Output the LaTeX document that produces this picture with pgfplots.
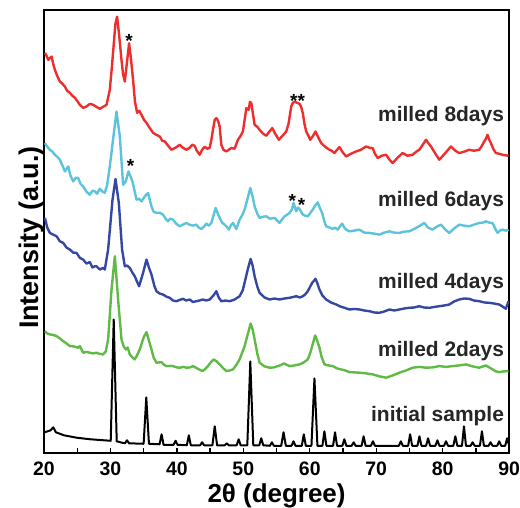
\documentclass[border=0pt]{standalone}
\usepackage{pgfplots}
\pgfplotsset{compat=1.18}
\usepackage{fontspec}
\setmainfont{Liberation Sans}
\definecolor{cRed}{RGB}{238,45,45}
\definecolor{cCyan}{RGB}{92,196,218}
\definecolor{cBlue}{RGB}{52,72,163}
\definecolor{cGreen}{RGB}{96,186,70}
\begin{document}
\begin{tikzpicture}
\begin{axis}[
  scale only axis, width=466pt, height=444pt,
  xmin=20, xmax=90, ymin=0, ymax=444,
  xtick={20,30,...,90}, minor xtick={25,35,...,85},
  xticklabels={20,30,40,50,60,70,80,90},
  ytick=\empty,
  xtick pos=bottom,
  tick align=inside,
  major tick length=5pt, minor tick length=5pt,
  every tick/.style={black, line width=1.3pt},
  axis line style={line width=1.6pt},
  /pgf/number format/assume math mode=true,
  xticklabel style={font=\fontsize{19.5}{20}\selectfont\bfseries, inner sep=0pt, anchor=north, yshift=-8pt},
  xlabel={2θ (degree)},
  xlabel style={font=\fontsize{26}{28}\selectfont\bfseries, at={(axis description cs:0.5,0)}, anchor=north, inner sep=0pt, yshift=-30pt},
  ylabel={Intensity (a.u.)},
  ylabel style={font=\fontsize{27}{28}\selectfont\bfseries, at={(axis description cs:0,0.5)}, anchor=south, rotate=0, inner sep=0pt, xshift=-6pt},
  every axis plot/.append style={line width=2.4pt, line join=round, mark=none},
]
% initial sample
\addplot[black, line width=2pt] coordinates {
(20.1,21)(21.0,23)(21.4,26)(21.8,21)(23,18)(25,15.5)(27,14)(29,13)(30.05,12.5)(30.5,134)(30.95,12)(31.8,10.5)(32.2,10)(32.5,13)(32.8,10)(35.0,9.5)(35.4,56)(35.8,9.5)
(37.4,9)(37.7,19)(38.0,8.5)(39.5,8.5)(39.8,12.5)(40.1,8.5)(41.5,8)(41.8,18)(42.1,8)(43.5,8)(43.8,11)(44.1,8)(45.35,8)(45.7,27)(46.05,8)(47.2,8)(47.5,10)(47.8,8)
(49.0,8)(49.3,14)(49.6,8)(50.6,8)(51.05,92)(51.5,8)(52.4,8)(52.7,15)(53.0,8)(54.0,7.5)(54.3,11)(54.6,7.5)(55.7,7.5)(56.05,21)(56.4,7.5)(57.25,7.5)(57.55,12)(57.85,7.5)
(58.8,7.5)(59.1,19)(59.4,7.5)(60.25,7.5)(60.7,75)(61.15,7.5)(61.9,7.5)(62.2,22)(62.5,7.5)(63.5,7.5)(63.8,21)(64.1,7.5)(64.9,7.5)(65.2,14)(65.5,7.5)(66.3,7.5)(66.6,11)(66.9,7.5)
(67.8,7.5)(68.1,17)(68.4,7.5)(69.2,7.5)(69.5,12)(69.8,7.5)(73.4,7.5)(73.7,12)(74.0,7.5)(74.8,7.5)(75.1,19)(75.4,7.5)(76.2,7.5)(76.5,17)(76.8,7.5)(77.5,7.5)(77.8,15)(78.1,7.5)
(78.9,7.5)(79.2,13)(79.5,7.5)(80.2,7.5)(80.5,12)(80.8,7.5)(81.6,7.5)(81.9,17)(82.2,7.5)(82.9,7.5)(83.2,27)(83.5,7.5)(84.2,7.5)(84.5,11)(84.8,7.5)(85.6,7.5)(85.9,22)(86.2,7.5)
(86.9,7.5)(87.2,11)(87.5,7.5)(88.2,7.5)(88.5,12)(88.8,7.5)(89.4,7.5)(89.7,15)(89.95,9)
};
% milled 2 days
\addplot[cGreen] coordinates {
(20.15,122.3)(20.5,120)(20.90,119)(21.4,118.5)(21.91,117.3)(22.4,115)(22.90,112.3)(23.4,110)(23.91,107.3)(24.5,107)(25.15,105.7)(25.41,107.3)(25.90,100.7)(26.4,101.5)(26.91,100.7)(27.4,100)(27.92,100.7)(28.4,99.5)(28.91,99)(29.3,102)(29.66,114)(30.17,164)(30.67,197.3)
(31.16,154)(31.67,114)(32.0,107)(32.32,104)(32.6,106)(32.92,99)(33.3,96)(33.67,94)(34.0,98)(34.42,104)(35.0,116)(35.43,121.3)(35.8,113)(36.18,104)(36.5,96)(36.93,90.7)(37.3,91)(37.68,91.3)(38.0,89)(38.43,87.3)(39.0,87.5)(39.42,87.3)(40.0,86)(40.43,85.7)(41.0,86.5)(41.44,85.7)(42.0,86)(42.43,87.3)
(43.33,84)(43.84,82.3)(44.2,84)(44.68,87.3)(45.1,91)(45.54,94)(46.0,92)(46.44,89)(47.0,85)(47.45,82.3)(48.0,83)(48.44,84)(49.0,89)(49.44,94)(50.19,107.3)(50.7,120)(51.10,130)(51.4,124)(51.70,114)(52.1,100)(52.45,90.7)(53.2,87)(53.95,85.7)(54.6,86)(55.20,87.3)(55.7,88.5)(56.10,90)
(56.95,87.3)(57.7,88)(58.46,89)(59.1,91)(59.70,94)(60.1,101)(60.36,107.3)(60.81,118)(61.1,113)(61.46,105.7)(61.8,96)(62.21,89)(62.8,88)(63.46,87.3)(64.1,85)(64.72,84)(65.3,83)(65.97,81.3)(66.7,81)(67.47,80.7)(68.5,80)(69.47,79)(70.5,77)(71.48,75.7)(72.5,78)(73.48,80.7)(74.5,83)(75.48,85.7)
(76.5,86.5)(77.49,85.7)(78.5,86)(79.49,87.3)(80.5,86.5)(81.49,87.3)(82.5,88)(83.49,89)(84.5,87)(85.50,85.7)(86.50,88)(87.49,84)(88.0,82)(88.50,81.3)(89.2,82)(89.90,82.3)
};
% milled 4 days
\addplot[cBlue] coordinates {
(20.15,235.7)(20.5,226)(20.90,220.7)(21.4,219)(21.91,217.3)(22.40,212.3)(22.90,210.7)(23.4,206)(23.91,204)(24.4,201)(24.91,200.7)(25.41,195.7)(25.90,194)(26.4,190)(26.91,191.5)(27.3,186)(27.66,187.3)(27.92,187.3)(28.4,184)(28.91,185.7)(29.16,184)
(29.66,204)(30.32,254)(30.77,274.7)(31.27,250.7)(31.76,204)(32.17,187.3)(32.5,188)(32.92,185.7)(33.3,181)(33.67,177.3)(34.0,172)(34.32,167.3)(34.92,180.7)(35.43,194)(35.8,186)(36.18,179)(36.6,168)(36.93,162.3)(37.4,160)(37.92,159)(38.4,157)
(38.93,155.7)(39.4,153)(39.93,152.3)(40.4,153.5)(40.93,154.7)(41.4,153)(41.93,154)(42.4,151.5)(42.94,152.3)(43.4,153)(43.93,154)(44.4,153)(44.94,154)(45.5,158)(45.94,162.3)(46.3,156)(46.69,152.3)(47.3,153)(47.94,152.3)(48.7,154)(49.44,157.3)(49.9,163)(50.19,170.7)(50.7,185)(51.10,194.7)(51.4,188)(51.70,177.3)
(52.1,167)(52.45,160.7)(53.2,156)(53.95,154)(54.7,155)(55.45,154)(56.2,155)(56.95,155.7)(57.5,156.5)(57.96,157.3)(58.5,156)(58.95,157.3)(59.3,159)(59.70,162.3)(60.36,170.7)(60.86,174.7)(61.1,171)(61.46,164)(61.9,158)(62.47,154)(63.2,151)(63.97,149)(64.6,147)(65.22,145.7)(65.97,144)
(66.7,144.5)(67.47,144)(68.2,143)(68.97,142.3)(69.7,141)(70.47,140.7)(71.2,142)(71.98,144)(72.7,143)(73.48,144)(74.2,145)(74.98,145.7)(75.7,146)(76.48,147.3)(77.2,146)(77.98,145.7)(78.7,146.5)(79.49,147.3)(80.2,148)(80.99,149)(81.7,152)(82.49,154)(83.2,155)(83.99,154.7)(84.7,153)(85.50,152.3)(86.3,151)(87.00,150.7)
(87.7,150)(88.50,149)(89.0,147)(89.50,144.7)(89.90,152.3)
};
% milled 6 days
\addplot[cCyan] coordinates {
(20.15,310.7)(20.5,307)(20.90,304)(21.3,302)(21.65,299)(22.0,297)(22.40,294)(22.8,288)(23.15,282.3)(23.65,287.3)(24.0,278)(24.40,272.3)(24.8,276)(25.15,275.7)(25.5,270)(25.90,267.3)(26.4,262)(26.91,259)(27.3,263)(27.66,262.3)(28.0,260)(28.41,265)(28.8,262)(29.16,261)(29.5,268)(29.91,287.3)
(30.52,320.7)(30.92,342.3)(31.42,317.3)(31.91,269)(32.32,272.3)(32.72,282.3)(33.32,272.3)(33.93,254)(34.3,255)(34.68,252.3)(35.17,257.3)(35.67,260.7)(36.18,247.3)(36.5,242)(36.93,240.7)(37.4,241)(37.92,239)(38.3,235)
(38.67,232.3)(39.0,235)(39.42,234)(39.9,230)(40.43,227.3)(40.9,229)(41.44,230.7)(41.9,229)(42.43,228)(42.94,229)(43.3,226)(43.69,224.7)(44.1,227)(44.44,230)(44.8,228)(45.19,230.7)(45.5,238)(45.84,245.7)(46.1,241)(46.44,235.7)(46.8,231)(47.19,229)(47.5,227)(47.84,224)(48.1,228)(48.44,230.7)
(48.95,224.7)(49.44,234)(49.8,238)(50.19,244)(50.6,254)(51.05,265.7)(51.4,257)(51.70,247.3)(52.1,240)(52.45,235.7)(53.0,237)(53.45,237.3)(54.0,235)(54.70,235.7)(55.1,233)(55.45,230.7)(55.8,234)(56.20,237.3)(56.6,239)(56.95,240.7)(57.3,244)(57.55,250.7)(57.96,242.3)(58.2,246)(58.46,244.7)
(58.95,239)(59.3,238)(59.70,237.3)(60.1,241)(60.45,244)(60.8,248)(61.20,251.3)(61.5,246)(61.86,240.7)(62.2,232)(62.47,227.3)(63.0,226)(63.46,224.7)(63.8,226)(64.21,224)(64.5,227)(64.87,230)(65.2,226)(65.47,224)(65.97,222.3)(66.7,223)(67.47,224)(68.2,221)(68.97,220.7)(69.7,220)(70.47,219)
(71.2,221)(71.98,222.3)(72.7,221)(73.48,220.7)(74.2,222)(74.98,222.3)(75.5,224)(75.99,225.7)(76.6,228)(77.23,230.7)(77.8,226)(78.48,224)(79.1,227)(79.74,229)(80.4,224)(80.99,220.7)(81.7,225)(82.49,229)(83.2,228)(83.99,227.3)(84.7,229)(85.50,230.7)(86.0,231)(86.50,232.3)(87.0,231)(87.49,230.7)(87.9,225)(88.25,220.7)
(88.6,223)(89.00,224)(89.5,223)(89.90,224)
};
% milled 8 days
\addplot[cRed] coordinates {
(20.15,401)(20.4,398)(20.65,394)(20.9,396)(21.16,397.3)(21.4,390)(21.65,384)(22.0,378)(22.40,372.3)(22.8,370)(23.15,367.3)(23.5,363)(23.91,361)(24.3,358)(24.66,356)(25.0,353)(25.41,349)(25.9,346)(26.41,347.3)(26.9,350)(27.41,349)(27.9,347)(28.41,345)(28.9,347)(29.42,349)(29.91,364)(30.2,385)(30.52,411)
(30.75,430)(31.01,437.3)(31.3,420)(31.67,394)(31.9,380)(32.17,372.3)(32.5,392)(32.81,410.7)(33.1,395)(33.41,374)(33.7,352)(34.02,341)(34.35,343)(34.68,339)(35.05,334)(35.43,331)(35.9,326)(36.42,321)(36.9,319)(37.43,317.3)(37.8,313)(38.18,312.3)(38.7,308)(39.18,304)(39.8,306)(40.43,309)(40.9,306)(41.44,304)(41.93,306)
(42.3,309)(42.68,308)(43.0,303)(43.43,299)(43.8,304)(44.19,307)(44.6,305)(44.94,306)(45.2,314)(45.43,324)(45.7,334)(45.94,335.7)(46.2,333)(46.44,327.3)(46.69,309)(47.0,304)(47.45,302.3)(47.8,304)(48.20,305.7)(48.69,305)(49.19,314)(49.6,318)(49.94,322.3)(50.2,334)(50.45,345.7)(50.8,344)(51.0,352)(51.20,350.7)
(51.45,340)(51.70,329)(52.1,327)(52.45,324)(53.0,320)(53.45,318)(53.9,322)(54.36,325.7)(54.8,320)(55.35,314)(55.9,318)(56.46,322.3)(56.8,330)(57.21,347.3)(57.45,351)(57.70,352.3)(58.1,351)(58.46,350)(58.7,347)(58.95,340.7)(59.2,330)(59.46,322.3)(59.8,318)(60.06,314)(60.5,318)(60.86,322.3)(61.3,316)(61.72,310.7)
(62.3,307)(62.96,304)(63.3,303)(63.71,300.7)(64.1,304)(64.46,306.7)(65.0,301)(65.47,297.3)(66.2,300)(66.97,302.3)(67.7,304)(68.48,307.3)(69.0,306)(69.47,305.7)(69.8,300)(70.22,295.7)(70.8,298)(71.48,299)(72.0,294)(72.47,290.7)(73.2,296)(73.97,300.7)(74.7,298)(75.48,299)(76.0,302)(76.48,304)(77.0,309)(77.49,314)
(77.9,310)(78.24,307.3)(78.9,300)(79.49,294)(80.3,300)(81.24,307.3)(81.9,303)(82.49,300.7)(83.2,302)(83.99,304)(84.7,303)(85.50,304)(85.9,308)(86.25,312.3)(86.5,315)(86.74,319)(87.0,314)(87.25,310.7)(87.6,305)(88.00,300.7)(88.5,300)(88.99,299)(89.4,298.5)(89.90,298)
};
% asterisks
\node[anchor=base, inner sep=0pt, font=\fontsize{19}{20}\selectfont\bfseries] at (axis cs:32.81,406.5) {*};
\node[anchor=base, inner sep=0pt, font=\fontsize{19}{20}\selectfont\bfseries] at (axis cs:58.16,346.5) {**};
\node[anchor=base, inner sep=0pt, font=\fontsize{19}{20}\selectfont\bfseries] at (axis cs:33.02,281.5) {*};
\node[anchor=base, inner sep=0pt, font=\fontsize{19}{20}\selectfont\bfseries] at (axis cs:57.36,246.5) {*};
\node[anchor=base, inner sep=0pt, font=\fontsize{19}{20}\selectfont\bfseries] at (axis cs:58.76,242.5) {*};
% labels
\node[anchor=base east, inner sep=0pt, font=\fontsize{21}{22}\selectfont\bfseries, text=black!85] at (axis cs:89.25,332) {milled 8days};
\node[anchor=base east, inner sep=0pt, font=\fontsize{21}{22}\selectfont\bfseries, text=black!85] at (axis cs:89.25,247) {milled 6days};
\node[anchor=base east, inner sep=0pt, font=\fontsize{21}{22}\selectfont\bfseries, text=black!85] at (axis cs:89.25,165) {milled 4days};
\node[anchor=base east, inner sep=0pt, font=\fontsize{21}{22}\selectfont\bfseries, text=black!85] at (axis cs:89.25,97.3) {milled 2days};
\node[anchor=base east, inner sep=0pt, font=\fontsize{21}{22}\selectfont\bfseries, text=black!85] at (axis cs:89.25,32.3) {initial sample};
\end{axis}
\path ([xshift=-44pt,yshift=-54pt]current axis.south west) rectangle ([xshift=10pt,yshift=10pt]current axis.north east);
\end{tikzpicture}
\end{document}
